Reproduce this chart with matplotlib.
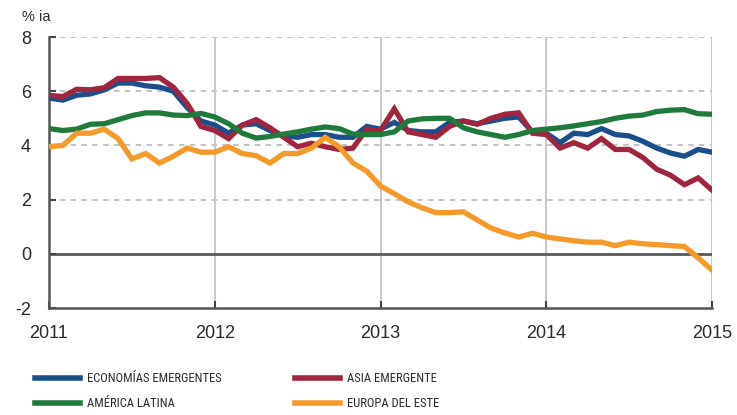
import matplotlib
matplotlib.use("Agg")
import matplotlib.pyplot as plt
from matplotlib.lines import Line2D
from matplotlib import font_manager as fm
import numpy as np

# Monthly data, Jan 2011 .. Jan 2015 (49 points)
start_year = 2011
economias_emergentes = [5.75, 5.67, 5.85, 5.9, 6.05, 6.3, 6.3, 6.2, 6.15, 6.0,
                        5.4, 4.9, 4.75, 4.45, 4.75, 4.8, 4.55, 4.35, 4.3, 4.4,
                        4.4, 4.3, 4.3, 4.7, 4.6, 4.85, 4.55, 4.5, 4.5, 4.85,
                        4.9, 4.8, 4.9, 5.0, 5.05, 4.5, 4.45, 4.1, 4.45, 4.4,
                        4.62, 4.4, 4.35, 4.15, 3.9, 3.72, 3.6, 3.85, 3.75]
asia_emergente = [5.85, 5.8, 6.07, 6.05, 6.13, 6.47, 6.47, 6.47, 6.5, 6.15,
                  5.55, 4.7, 4.55, 4.25, 4.75, 4.95, 4.65, 4.3, 3.95, 4.08,
                  3.95, 3.85, 3.9, 4.6, 4.55, 5.35, 4.5, 4.4, 4.3, 4.7,
                  4.9, 4.78, 5.0, 5.15, 5.2, 4.45, 4.4, 3.9, 4.1, 3.9,
                  4.25, 3.85, 3.85, 3.55, 3.12, 2.9, 2.55, 2.8, 2.35]
america_latina = [4.62, 4.55, 4.6, 4.78, 4.8, 4.95, 5.1, 5.2, 5.2, 5.12,
                  5.1, 5.18, 5.05, 4.8, 4.45, 4.27, 4.33, 4.42, 4.5, 4.6,
                  4.68, 4.62, 4.42, 4.4, 4.4, 4.5, 4.9, 4.98, 5.0, 5.0,
                  4.65, 4.5, 4.4, 4.3, 4.4, 4.55, 4.6, 4.65, 4.72, 4.8,
                  4.88, 5.0, 5.08, 5.12, 5.25, 5.3, 5.32, 5.17, 5.15]
europa_del_este = [3.95, 4.0, 4.45, 4.45, 4.6, 4.25, 3.5, 3.7, 3.35, 3.6,
                   3.9, 3.75, 3.75, 3.95, 3.7, 3.62, 3.35, 3.7, 3.7, 3.9,
                   4.3, 3.95, 3.35, 3.05, 2.5, 2.22, 1.92, 1.7, 1.52, 1.52,
                   1.55, 1.25, 0.95, 0.77, 0.62, 0.76, 0.62, 0.55, 0.48, 0.43,
                   0.43, 0.3, 0.43, 0.37, 0.34, 0.3, 0.27, -0.15, -0.6]

series_names = ["ECONOMÍAS EMERGENTES", "AMÉRICA LATINA", "ASIA EMERGENTE", "EUROPA DEL ESTE"]
series_values = [economias_emergentes, america_latina, asia_emergente, europa_del_este]
series_colors = ["#1B4F8C", "#1F7A3C", "#A0263F", "#F39A2A"]
draw_order = [0, 2, 1, 3]

year_ticks = [2011, 2012, 2013, 2014, 2015]
y_ticks = [-2, 0, 2, 4, 6, 8]

plt.rcParams['font.family'] = ['Liberation Sans', 'DejaVu Sans']
TXT = "#2a2a2a"

# pick a condensed face if one is installed
cond_file = None
for f in fm.fontManager.ttflist:
    if f.stretch in ('condensed', 'semi-condensed', 'extra-condensed') and f.weight in (400, 'normal', 'regular') and f.style == 'normal':
        if cond_file is None or 'Narrow' in f.name or 'Roboto' in f.name:
            cond_file = f.fname
legend_font = fm.FontProperties(fname=cond_file) if cond_file else fm.FontProperties(family='Liberation Sans')

fig = plt.figure(figsize=(7.37, 4.15), dpi=100)
ax = fig.add_axes([49/737, 1-308/415, (712-49)/737, (308-37)/415])

x = start_year + np.arange(len(economias_emergentes)) / 12.0

# grid
for yv in y_ticks:
    if yv in (0, -2):
        continue
    ax.axhline(yv, color="#bdbdbd", lw=1.3, ls=(0, (3, 3)), zorder=1)
for xv in year_ticks[1:]:
    ax.axvline(xv, color="#c8c8c8", lw=1.4, zorder=1)
ax.axhline(0, color="#5a5a5a", lw=2.0, zorder=1.5)

for k in draw_order:
    ax.plot(x, series_values[k], color=series_colors[k], lw=3.8,
            solid_joinstyle="miter", zorder=3)

ax.set_xlim(2011, 2015)
ax.set_ylim(-2, 8)
ax.set_xticks(year_ticks)
ax.set_xticklabels([str(y) for y in year_ticks])
ax.set_yticks(y_ticks)
ax.set_yticklabels([str(v) for v in y_ticks])
ax.tick_params(axis='both', direction='in', length=5, width=1.5, color="#444444",
               labelsize=13, labelcolor=TXT)
ax.tick_params(axis='y', pad=13)
ax.tick_params(axis='x', pad=12)

for s in ['top', 'right']:
    ax.spines[s].set_visible(False)
for s in ['left', 'bottom']:
    ax.spines[s].set_color("#555555")
    ax.spines[s].set_linewidth(1.8)

fig.text(22/737, 1-17/415, "% ia", fontsize=10.5, color=TXT, va='center', ha='left')

# legend (manual, two columns)
leg_pos = [(35, 378), (35, 403), (295, 378), (295, 403)]
for (px, py), name, col in zip(leg_pos, series_names, series_colors):
    yf = 1 - py/415
    fig.add_artist(Line2D([px/737, (px+45)/737], [yf, yf], color=col, lw=4,
                          transform=fig.transFigure))
    fp = legend_font.copy()
    fp.set_size(9 if cond_file else 8.5)
    fig.text((px+52)/737, yf, name, fontproperties=fp, color=TXT, va='center', ha='left')

fig.savefig("out.png", dpi=100)
